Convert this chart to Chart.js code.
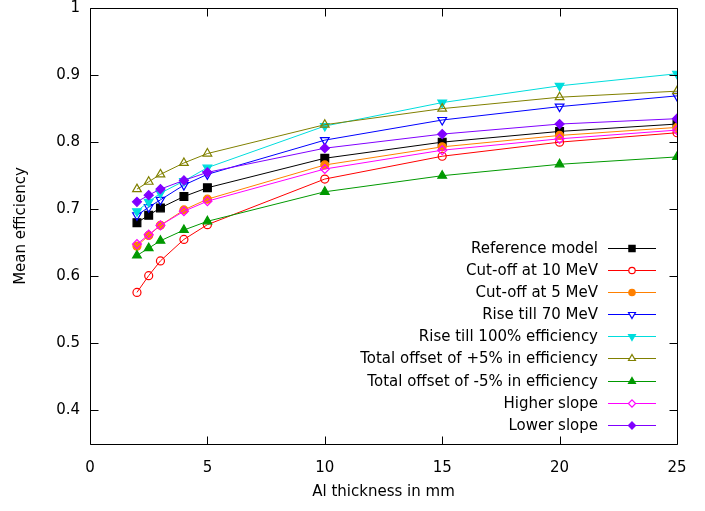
<!DOCTYPE html>
<html>
<head>
<meta charset="utf-8">
<script src="https://cdn.jsdelivr.net/npm/chart.js@4/dist/chart.umd.min.js"></script>
<style>
html,body{margin:0;padding:0;background:#fff;}
#wrap{width:705px;height:511px;position:relative;}
</style>
</head>
<body>
<div id="wrap"><canvas id="c" width="705" height="511"></canvas></div>
<script>
const thickness = [2, 2.5, 3, 4, 5, 10, 15, 20, 25];
const seriesNames = [
  "Reference model",
  "Cut-off at 10 MeV",
  "Cut-off at 5 MeV",
  "Rise till 70 MeV",
  "Rise till 100% efficiency",
  "Total offset of +5% in efficiency",
  "Total offset of -5% in efficiency",
  "Higher slope",
  "Lower slope"
];
const referenceModel = [0.680, 0.691, 0.702, 0.719, 0.732, 0.776, 0.800, 0.816, 0.827];
const cutoff10 = [0.576, 0.601, 0.623, 0.655, 0.677, 0.745, 0.779, 0.800, 0.814];
const cutoff5 = [0.645, 0.661, 0.676, 0.699, 0.715, 0.766, 0.793, 0.810, 0.822];
const rise70 = [0.691, 0.703, 0.714, 0.736, 0.752, 0.803, 0.833, 0.853, 0.869];
const rise100 = [0.697, 0.711, 0.724, 0.742, 0.762, 0.824, 0.859, 0.884, 0.902];
const offsetPlus = [0.730, 0.741, 0.752, 0.769, 0.783, 0.826, 0.850, 0.867, 0.876];
const offsetMinus = [0.631, 0.642, 0.653, 0.669, 0.682, 0.726, 0.750, 0.767, 0.778];
const higherSlope = [0.648, 0.662, 0.676, 0.697, 0.712, 0.760, 0.788, 0.805, 0.818];
const lowerSlope = [0.711, 0.721, 0.730, 0.743, 0.755, 0.791, 0.812, 0.827, 0.835];
const xTicks = [0, 5, 10, 15, 20, 25];
const yTicks = [0.4, 0.5, 0.6, 0.7, 0.8, 0.9, 1];
const xTitle = "Al thickness in mm";
const yTitle = "Mean efficiency";

const allSeries = [referenceModel, cutoff10, cutoff5, rise70, rise100, offsetPlus, offsetMinus, higherSlope, lowerSlope];
const styles = [
  {color:'#000000', style:'rect', rot:0, fill:true, r:5.5},
  {color:'#ff0000', style:'circle', rot:0, fill:false, r:4},
  {color:'#ff8000', style:'circle', rot:0, fill:true, r:4},
  {color:'#0000ff', style:'triangle', rot:180, fill:false, r:5},
  {color:'#00dddd', style:'triangle', rot:180, fill:true, r:5},
  {color:'#808000', style:'triangle', rot:0, fill:false, r:5},
  {color:'#009900', style:'triangle', rot:0, fill:true, r:5},
  {color:'#ff00ff', style:'rectRot', rot:0, fill:false, r:4.5},
  {color:'#8000ff', style:'rectRot', rot:0, fill:true, r:4.5}
];
const FONT = 'DejaVu Sans';

const datasets = allSeries.map((vals, i) => {
  const s = styles[i];
  return {
    label: seriesNames[i],
    data: thickness.map((x, j) => ({x: x, y: vals[j]})),
    borderColor: s.color,
    borderWidth: 1,
    pointStyle: s.style,
    pointRotation: s.rot,
    pointRadius: s.r,
    pointHoverRadius: s.r,
    pointBorderColor: s.color,
    pointBackgroundColor: s.fill ? s.color : 'rgba(0,0,0,0)',
    pointBorderWidth: 1.2,
    tension: 0,
    fill: false,
    order: allSeries.length - i
  };
});

function marker(ctx, style, rot, r, x, y, fill) {
  ctx.beginPath();
  if (style === 'circle') {
    ctx.arc(x, y, r, 0, Math.PI * 2);
  } else if (style === 'rect') {
    const s = r * Math.SQRT1_2;
    ctx.rect(x - s, y - s, 2 * s, 2 * s);
  } else if (style === 'rectRot') {
    ctx.moveTo(x, y - r); ctx.lineTo(x + r, y); ctx.lineTo(x, y + r); ctx.lineTo(x - r, y); ctx.closePath();
  } else if (style === 'triangle') {
    const sgn = rot === 180 ? -1 : 1;
    for (let k = 0; k < 3; k++) {
      const ang = -Math.PI / 2 + k * 2 * Math.PI / 3;
      const px = x + r * Math.cos(ang), py = y + sgn * r * Math.sin(ang);
      if (k === 0) ctx.moveTo(px, py); else ctx.lineTo(px, py);
    }
    ctx.closePath();
  }
  if (fill) ctx.fill();
  ctx.stroke();
}

const frame = {
  id: 'frame',
  afterDraw(chart) {
    const ctx = chart.ctx;
    const a = chart.chartArea;
    const xs = chart.scales.x, ys = chart.scales.y;
    ctx.save();
    ctx.strokeStyle = '#000';
    ctx.lineWidth = 1;
    const L = Math.round(a.left) + 0.5, R = Math.round(a.right) + 0.5;
    const T = Math.round(a.top) + 0.5, B = Math.round(a.bottom) + 0.5;
    ctx.beginPath();
    ctx.rect(L, T, R - L, B - T);
    ctx.stroke();
    const tl = 8;
    ctx.beginPath();
    xTicks.forEach(v => {
      const px = Math.round(xs.getPixelForValue(v)) + 0.5;
      ctx.moveTo(px, B); ctx.lineTo(px, B - tl);
      ctx.moveTo(px, T); ctx.lineTo(px, T + tl);
    });
    yTicks.forEach(v => {
      const py = Math.round(ys.getPixelForValue(v)) + 0.5;
      ctx.moveTo(L, py); ctx.lineTo(L + tl, py);
      ctx.moveTo(R, py); ctx.lineTo(R - tl, py);
    });
    ctx.stroke();

    // legend
    const textRight = a.right - 79;
    const lineStart = a.right - 69;
    const lineEnd = a.right - 21;
    const mid = (lineStart + lineEnd) / 2;
    const top0 = a.top + 239.7;
    const step = 22.15;
    ctx.font = '15px "' + FONT + '"';
    ctx.textAlign = 'right';
    ctx.textBaseline = 'middle';
    seriesNames.forEach((name, i) => {
      const st = styles[i];
      const y = Math.round(top0 + i * step) + 0.5;
      ctx.fillStyle = '#000';
      ctx.fillText(name, textRight, y + 0.5);
      ctx.strokeStyle = st.color;
      ctx.lineWidth = 1;
      ctx.beginPath();
      ctx.moveTo(lineStart, y);
      ctx.lineTo(lineEnd, y);
      ctx.stroke();
      ctx.strokeStyle = st.color;
      ctx.fillStyle = st.fill ? st.color : '#fff';
      ctx.lineWidth = 1.2;
      marker(ctx, st.style, st.rot, st.r * 0.8, mid, y, true);
    });
    ctx.restore();
  }
};

new Chart(document.getElementById('c'), {
  type: 'line',
  data: { datasets: datasets },
  plugins: [frame],
  options: {
    responsive: false,
    animation: false,
    devicePixelRatio: 1,
    layout: { padding: { left: 0, right: 28, top: 8, bottom: 0 } },
    plugins: { legend: { display: false }, tooltip: { enabled: false } },
    scales: {
      x: {
        type: 'linear',
        min: 0, max: 25,
        afterBuildTicks: s => { s.ticks = xTicks.map(v => ({value: v})); },
        afterFit: s => { s.height = 67; s.paddingLeft = 0; s.paddingRight = 0; },
        grid: { display: false, drawTicks: false },
        border: { display: false },
        ticks: { color: '#000', font: { family: FONT, size: 15 }, padding: 15, maxRotation: 0,
                  callback: v => String(v) },
        title: { display: true, text: xTitle, color: '#000', font: { family: FONT, size: 15 }, padding: 10 }
      },
      y: {
        type: 'linear',
        min: 0.35, max: 1,
        afterBuildTicks: s => { s.ticks = yTicks.map(v => ({value: v})); },
        afterFit: s => { s.width = 90; s.paddingTop = 0; s.paddingBottom = 0; },
        grid: { display: false, drawTicks: false },
        border: { display: false },
        ticks: { color: '#000', font: { family: FONT, size: 15 }, padding: 10,
                  callback: v => String(Math.round(v * 10) / 10) },
        title: { display: true, text: yTitle, color: '#000', font: { family: FONT, size: 15 }, padding: 12 }
      }
    }
  }
});
</script>
</body>
</html>
